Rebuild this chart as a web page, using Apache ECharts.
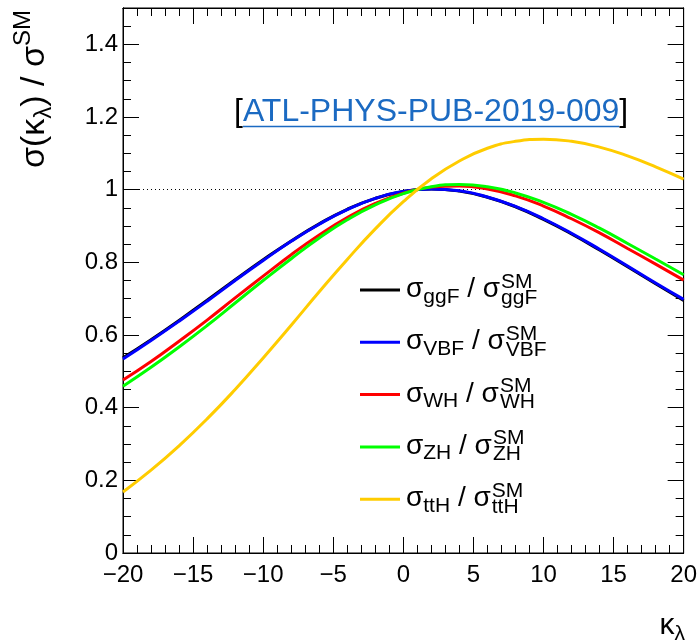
<!DOCTYPE html>
<html>
<head>
<meta charset="utf-8">
<script src="https://cdn.jsdelivr.net/npm/echarts@6/dist/echarts.min.js"></script>
<style>
  html, body { margin: 0; padding: 0; background: #ffffff; }
  #chart { width: 700px; height: 643px; }
</style>
</head>
<body>
<div id="chart"></div>
<script>
// Trilinear Higgs self-coupling: cross-section ratio vs kappa_lambda
const kappa = [-20, -18, -16, -14, -12, -10, -8, -6, -4, -2, 0, 2, 4, 6, 8, 10, 12, 14, 16, 18, 20];

const ggF = [0.537, 0.587, 0.640, 0.696, 0.752, 0.807, 0.859, 0.906, 0.946, 0.976, 0.995, 1.002, 0.996, 0.979, 0.953, 0.918, 0.878, 0.834, 0.788, 0.741, 0.695];
const VBF = [0.534, 0.585, 0.638, 0.693, 0.750, 0.805, 0.858, 0.905, 0.945, 0.976, 0.995, 1.002, 0.997, 0.980, 0.954, 0.920, 0.880, 0.836, 0.790, 0.743, 0.698];
const WH  = [0.476, 0.527, 0.583, 0.641, 0.702, 0.762, 0.821, 0.875, 0.923, 0.962, 0.990, 1.007, 1.010, 1.002, 0.983, 0.955, 0.920, 0.881, 0.838, 0.795, 0.751];
const ZH  = [0.459, 0.511, 0.567, 0.626, 0.688, 0.750, 0.810, 0.867, 0.917, 0.958, 0.989, 1.008, 1.014, 1.008, 0.991, 0.965, 0.932, 0.894, 0.852, 0.809, 0.766];
const ttH = [0.168, 0.228, 0.295, 0.369, 0.450, 0.537, 0.627, 0.719, 0.808, 0.892, 0.967, 1.030, 1.079, 1.114, 1.133, 1.139, 1.133, 1.117, 1.093, 1.063, 1.029];

const processNames = ['ggF', 'VBF', 'WH', 'ZH', 'ttH'];
const processValues = [ggF, VBF, WH, ZH, ttH];
const processColors = ['#000000', '#0000ff', '#ff0000', '#00ff00', '#ffcc00'];

const xTickValues = [-20, -15, -10, -5, 0, 5, 10, 15, 20];
const xTickLabels = ['\u221220', '\u221215', '\u221210', '\u22125', '0', '5', '10', '15', '20'];
const yTickValues = [0, 0.2, 0.4, 0.6, 0.8, 1, 1.2, 1.4];
const yTickLabels = ['0', '0.2', '0.4', '0.6', '0.8', '1', '1.2', '1.4'];

const refLine = 1;
const refNote = 'ATL-PHYS-PUB-2019-009';

const FONT = '"Liberation Sans", Arial, Helvetica, sans-serif';
const measureCtx = document.createElement('canvas').getContext('2d');
function textWidth(s, size) {
  measureCtx.font = size + 'px ' + FONT;
  return measureCtx.measureText(s).width;
}
// text element placed by its alphabetic baseline
function txt(s, x, base, size, color) {
  return {
    type: 'text', x: x, y: base - 0.347 * size, silent: true,
    style: { text: s, font: size + 'px ' + FONT, fill: color || '#000', align: 'left', verticalAlign: 'middle' }
  };
}

function labelFrom(values, labels) {
  return function (v) {
    for (let i = 0; i < values.length; i++) {
      if (Math.abs(values[i] - v) < 1e-6) return labels[i];
    }
    return '';
  };
}

function xAx(pos, interval, len, withLabels) {
  return {
    type: 'value', position: pos, min: -20, max: 20, interval: interval,
    axisLine: { show: true, onZero: false, lineStyle: { color: '#000', width: 1 } },
    axisTick: { show: true, inside: true, length: len, lineStyle: { color: '#000', width: 1 } },
    axisLabel: withLabels ? { show: true, margin: 10, fontSize: 24, fontFamily: FONT, color: '#000', formatter: labelFrom(xTickValues, xTickLabels) } : { show: false },
    splitLine: { show: false }
  };
}
function yAx(pos, interval, len, withLabels) {
  return {
    type: 'value', position: pos, min: 0, max: 1.5, interval: interval,
    axisLine: { show: true, onZero: false, lineStyle: { color: '#000', width: 1 } },
    axisTick: { show: true, inside: true, length: len, lineStyle: { color: '#000', width: 1 } },
    axisLabel: withLabels ? { show: true, margin: 5, fontSize: 24, fontFamily: FONT, color: '#000', formatter: labelFrom(yTickValues, yTickLabels) } : { show: false },
    splitLine: { show: false }
  };
}

const series = processNames.map(function (name, i) {
  const s = {
    name: name, type: 'line', smooth: true, symbol: 'none',
    xAxisIndex: 0, yAxisIndex: 0,
    lineStyle: { color: processColors[i], width: 3 },
    itemStyle: { color: processColors[i] },
    data: kappa.map(function (k, j) { return [k, processValues[i][j]]; }),
    z: 3 + i
  };
  if (i === 0) {
    s.markLine = {
      silent: true, symbol: 'none', label: { show: false },
      lineStyle: { color: '#000', type: [1, 3], width: 1 },
      data: [{ yAxis: refLine }],
      z: 1
    };
  }
  return s;
});

// legend and titles
const graphics = [];

// y-axis title, rotated
(function () {
  const F = 34, S = 24;
  const children = [];
  let x = 0;
  children.push(txt('\u03c3(\u03ba', x, 0, F)); x += textWidth('\u03c3(\u03ba', F);
  children.push(txt('\u03bb', x, 7, S)); x += textWidth('\u03bb', S);
  children.push(txt(') / \u03c3', x, 0, F)); x += textWidth(') / \u03c3', F);
  children.push(txt('SM', x, -14, S));
  graphics.push({ type: 'group', x: 46, y: 168, rotation: Math.PI / 2, children: children });
})();

// x-axis title
(function () {
  const F = 30, S = 21;
  const wK = textWidth('\u03ba', F), wL = textWidth('\u03bb', S);
  const x0 = 685 - wK - wL;
  graphics.push(txt('\u03ba', x0, 636, F));
  graphics.push(txt('\u03bb', x0 + wK, 641, S));
})();

// reference note with link styling
(function () {
  const F = 32;
  let x = 234;
  const base = 123;
  graphics.push(txt('[', x, base, F)); x += textWidth('[', F);
  const w = textWidth(refNote, F);
  graphics.push(txt(refNote, x, base, F, '#1b6ac2'));
  graphics.push({ type: 'line', silent: true, shape: { x1: x, y1: base + 3.5, x2: x + w, y2: base + 3.5 }, style: { stroke: '#1b6ac2', lineWidth: 1.5 } });
  x += w;
  graphics.push(txt(']', x, base, F));
})();

// legend entries
(function () {
  const F = 28, S = 21;
  processNames.forEach(function (name, i) {
    const lineY = 290 + i * 52.3;
    const base = 299 + i * 52.3;
    graphics.push({ type: 'line', silent: true, shape: { x1: 360, y1: lineY, x2: 400, y2: lineY }, style: { stroke: processColors[i], lineWidth: 3 } });
    let x = 406;
    graphics.push(txt('\u03c3', x, base, F)); x += textWidth('\u03c3', F);
    graphics.push(txt(name, x, base + 5, S)); x += textWidth(name, S);
    graphics.push(txt(' / \u03c3', x, base, F)); x += textWidth(' / \u03c3', F) + 1;
    graphics.push(txt('SM', x, base - 10, S));
    graphics.push(txt(name, x, base + 6, S));
  });
})();

const chart = echarts.init(document.getElementById('chart'), null, { renderer: 'canvas' });
chart.setOption({
  animation: false,
  backgroundColor: '#ffffff',
  grid: { left: 123, right: 14, top: 8, bottom: 90, containLabel: false, show: true, borderColor: '#000', borderWidth: 1 },
  xAxis: [xAx('bottom', 5, 16, true), xAx('bottom', 1, 8, false), xAx('top', 5, 16, false), xAx('top', 1, 8, false)],
  yAxis: [yAx('left', 0.2, 16, true), yAx('left', 0.05, 8, false), yAx('right', 0.2, 16, false), yAx('right', 0.05, 8, false)],
  series: series,
  graphic: graphics
});
</script>
</body>
</html>
